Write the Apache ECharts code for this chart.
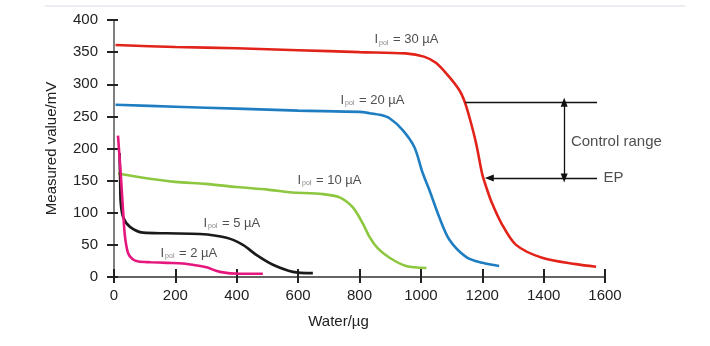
<!DOCTYPE html>
<html>
<head>
<meta charset="utf-8">
<script src="https://cdn.jsdelivr.net/npm/echarts@6/dist/echarts.min.js"></script>
<style>html,body{margin:0;padding:0;background:#fff}#c{width:710px;height:346px}</style>
</head>
<body>
<div id="c"></div>
<script>
const xTicks = [0, 200, 400, 600, 800, 1000, 1200, 1400, 1600];
const yTicks = [0, 50, 100, 150, 200, 250, 300, 350, 400];

const curve30 = [[5,361],[200,358],[400,356],[600,353],[800,350],[950,348],[1010,343],[1050,333],[1093,311],[1125,291],[1141,275],[1158,249],[1180,208],[1200,160],[1213,140],[1230,117],[1262,84],[1310,50],[1395,30],[1505,20],[1571,16]];
const curve20 = [[5,268],[200,265],[400,262],[600,259],[800,257],[833,255],[870,252],[898,247],[940,229],[979,202],[1005,163],[1028,135],[1060,93],[1093,58],[1148,31],[1201,22],[1255,17]];
const curve10 = [[13,161],[100,154],[200,148],[300,145],[400,140],[500,136],[572,132],[680,129],[735,124],[777,109],[810,84],[833,62],[859,45],[898,30],[952,17],[1018,14]];
const curve5  = [[18,193],[20,150],[22,115],[30,93],[52,78],[95,69],[172,68],[280,67],[367,61],[420,50],[465,34],[518,19],[583,8],[648,6]];
const curve2  = [[13,220],[22,160],[30,100],[36,62],[46,37],[60,28],[80,24],[120,23],[172,22],[225,21],[270,18],[302,15],[345,8],[410,5],[485,5]];

const curveLabels = [
  {name: '30', value: [953, 369]},
  {name: '20', value: [842, 275]},
  {name: '10', value: [702, 151]},
  {name: '5',  value: [384, 84]},
  {name: '2',  value: [244, 37]}
];
const controlTop = 272, epLevel = 154;
const controlLineX = [1145, 1574];
const arrowX = 1467;
const epLineX = [1223, 1574];
const controlText = {text: 'Control range', value: [1489, 210]};
const epText = {text: 'EP', value: [1595, 154]};

const FONT = '"Liberation Sans", Arial, sans-serif';
const chart = echarts.init(document.getElementById('c'), null, {renderer: 'canvas'});

function lineSeries(name, data, color) {
  return {
    name, type: 'line', data, showSymbol: false, smooth: 0.3,
    lineStyle: {color, width: 2.6}, itemStyle: {color}, z: 3
  };
}

chart.setOption({
  animation: false,
  backgroundColor: '#ffffff',
  grid: {left: 114, right: 105, top: 20, bottom: 69},
  graphic: [{type: 'line', shape: {x1: 45, y1: 6, x2: 685, y2: 6}, style: {stroke: '#e6e6ee', lineWidth: 1.5}, silent: true}],
  xAxis: [{
    type: 'value', min: 0, max: 1600, interval: 200,
    name: 'Water/\u00b5g', nameLocation: 'middle', nameGap: 37,
    nameTextStyle: {fontFamily: FONT, fontSize: 15, color: '#222', padding: [0, 42, 0, 0]},
    axisLine: {show: true, lineStyle: {color: '#333', width: 1.5}},
    splitLine: {show: false},
    axisTick: {show: true, length: 6, lineStyle: {color: '#222', width: 2}},
    axisLabel: {fontFamily: FONT, fontSize: 15, color: '#222', margin: 11, formatter: v => String(v)}
  }, {
    type: 'value', min: 0, max: 1600, interval: 200, position: 'bottom',
    axisLine: {show: false}, splitLine: {show: false},
    axisTick: {show: true, inside: true, length: 8, lineStyle: {color: '#222', width: 2}},
    axisLabel: {show: false}
  }],
  yAxis: [{
    type: 'value', min: 0, max: 400, interval: 50,
    name: 'Measured value/mV', nameLocation: 'middle', nameGap: 55,
    nameTextStyle: {fontFamily: FONT, fontSize: 15, color: '#222'},
    axisLine: {show: true, lineStyle: {color: '#555', width: 1.5}},
    splitLine: {show: false},
    axisTick: {show: true, length: 7, lineStyle: {color: '#222', width: 2}},
    axisLabel: {fontFamily: FONT, fontSize: 15, color: '#222', margin: 16, formatter: v => String(v)}
  }, {
    type: 'value', min: 0, max: 400, interval: 50, position: 'left',
    axisLine: {show: false}, splitLine: {show: false},
    axisTick: {show: true, inside: true, length: 4, lineStyle: {color: '#222', width: 2}},
    axisLabel: {show: false}
  }],
  series: [
    lineSeries('30', curve30, '#e2231a'),
    lineSeries('20', curve20, '#1f7ec2'),
    lineSeries('10', curve10, '#8dc63f'),
    lineSeries('5', curve5, '#1a1a1a'),
    lineSeries('2', curve2, '#e5177e'),
    {
      type: 'scatter', symbolSize: 0, data: curveLabels, z: 5,
      label: {
        show: true, position: 'inside', color: '#222', fontFamily: FONT, fontSize: 13,
        formatter: p => '{i|I}{s|pol}{i| = ' + p.name + ' \u00b5A}',
        rich: {
          i: {fontFamily: FONT, fontSize: 13, color: '#222'},
          s: {fontFamily: FONT, fontSize: 7, color: '#666', padding: [6, 1, 0, 1]}
        }
      }
    },
    {
      type: 'scatter', symbolSize: 0, z: 5,
      data: [{name: controlText.text, value: controlText.value}, {name: epText.text, value: epText.value}],
      label: {
        show: true, position: 'right', distance: 0, color: '#222', fontFamily: FONT,
        formatter: p => p.name,
        fontSize: 15
      }
    },
    {
      type: 'line', data: [], z: 4,
      markLine: {
        silent: true, animation: false,
        label: {show: false},
        lineStyle: {color: '#111', width: 1.3, type: 'solid'},
        data: [
          [{coord: [controlLineX[0], controlTop], symbol: 'none'}, {coord: [controlLineX[1], controlTop], symbol: 'none'}],
          [{coord: [arrowX, controlTop], symbol: 'triangle', symbolSize: [7, 9]}, {coord: [arrowX, epLevel], symbol: 'triangle', symbolSize: [7, 9]}],
          [{coord: [epLineX[0], epLevel], symbol: 'triangle', symbolSize: [7, 9]}, {coord: [epLineX[1], epLevel], symbol: 'none'}]
        ]
      }
    }
  ]
});
</script>
</body>
</html>
